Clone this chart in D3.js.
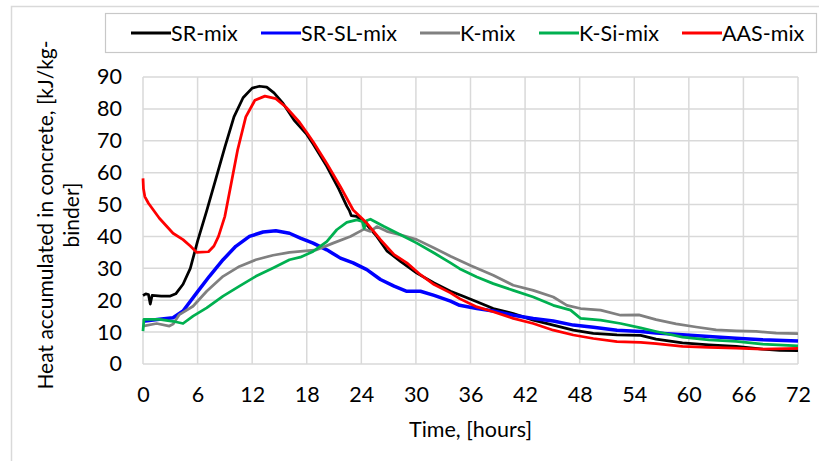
<!DOCTYPE html>
<html>
<head>
<meta charset="utf-8">
<script src="https://cdn.jsdelivr.net/npm/d3@7"></script>
<style>
  body { margin: 0; background: #fff; }
  text { font-family: Lato, "Open Sans", sans-serif; fill: #000; }
</style>
</head>
<body>
<div id="chart"></div>
<script>
// Heat accumulated in concrete vs time, five mixes

let seriesNames = ["SR-mix", "SR-SL-mix", "K-mix", "K-Si-mix", "AAS-mix"];
let seriesColors = ["#000000", "#0000ff", "#808080", "#00b050", "#ff0000"];

let xTicks = [0, 6, 12, 18, 24, 30, 36, 42, 48, 54, 60, 66, 72];
let yTicks = [0, 10, 20, 30, 40, 50, 60, 70, 80, 90];

// [time (h), heat (kJ/kg-binder)]
let srMix = [[0,21.5],[0.3,22],[0.6,21.8],[0.8,18.8],[1,21.5],[2,21.3],[3,21.3],[3.6,22],[4.4,25],
  [5.2,30],[6,38.5],[7,48],[8,58],[9,68],[10,77.5],[11,83.5],[12,86.5],[12.8,87.1],[13.6,86.8],
  [14.4,85],[15.4,81.7],[16.6,76.5],[18,72],[18.7,69],[20.2,62],[21.5,55],[22.4,49.5],[22.7,48],
  [22.9,46.5],[23.5,46.3],[24.6,43.6],[25.7,40],[26.8,35.5],[28.3,32.2],[30.1,28.5],[32,25.4],
  [33.8,22.8],[35,21.5],[36.7,19.5],[38.5,17.4],[40.7,15.8],[42.9,13.75],[45.1,12.2],[47.3,10.6],
  [49.5,9.6],[52.1,9.1],[54.7,9],[56.4,7.8],[59.3,6.6],[62.2,6],[65.2,5.5],[68.1,4.7],[70,4.3],[72,4.2]];

let srSlMix = [[0,13.4],[1.8,14],[3.3,14.5],[4.4,16.6],[5.9,22.3],[7.3,27.5],[8.8,32.7],[10.2,36.9],
  [11.7,40],[13.2,41.4],[14.6,41.8],[16.1,41],[17.3,39.5],[18.7,37.9],[20.2,35.8],[21.7,33.2],
  [23.1,31.7],[24.6,29.6],[26.1,26.5],[27.6,24.4],[29,22.8],[30.5,22.8],[32,21.5],[33.8,19.7],
  [34.8,18.4],[36.7,17.4],[38.5,16.6],[40.7,15.3],[42.9,14.3],[45.1,13.5],[47.3,12.2],[49.5,11.5],
  [52.1,10.6],[54.7,10.2],[56.4,9.7],[59.3,9.2],[62.2,8.6],[65.2,8.1],[68.1,7.6],[72,7.2]];

let kMix = [[0,11.9],[1.5,12.7],[2.9,11.9],[3.3,12.5],[4,15.5],[5.5,18.1],[7,22.8],[8.8,27.5],
  [10.6,30.6],[12.4,32.7],[14.3,34.1],[16.1,35],[17.9,35.5],[19.1,35.8],[20.9,37.9],[22.8,40],
  [24.3,42.3],[25,41.6],[25.7,43.1],[26.8,41.6],[28.3,40.5],[30.1,39],[32,36.4],[33.8,33.8],
  [36,30.9],[38.5,27.8],[40.7,24.7],[42.9,23.1],[45.1,21],[46.6,18.4],[48.1,17.4],[50.3,16.9],
  [52.5,15.3],[54.5,15.4],[56.4,13.9],[58.6,12.6],[60.8,11.6],[63,10.7],[65.2,10.4],[67.4,10.2],
  [69.6,9.7],[72,9.5]];

let kSiMix = [[0,10.3],[0.1,14],[1.8,14],[3.3,13.4],[4.4,12.7],[5.5,15],[7,17.6],[8.8,21.3],
  [10.6,24.4],[12.4,27.5],[14.3,30.1],[16.1,32.7],[17.3,33.5],[18.7,35.3],[20.2,38.4],[21.3,42.1],
  [22.4,44.4],[23.5,45.2],[24.1,44.7],[24.3,42.5],[24.6,45],[25,45.4],[26.5,43.1],[28.3,40.5],
  [30.1,37.9],[32,34.8],[33.8,31.7],[34.8,29.9],[36.7,27.3],[38.5,25.2],[40.7,23.1],[42.9,21],
  [45.1,18.4],[47,16.9],[48.1,14.3],[50.3,13.75],[52.5,12.7],[54.7,11.3],[56.4,10.2],[59.3,8.4],
  [62.2,7.6],[65.2,7.1],[68.1,6.25],[72,5.7]];

let aasMix = [[0,58.2],[0.05,55],[0.2,52.5],[0.6,50.4],[1.8,45.7],[3.3,41],[4.4,39],[5.2,37],
  [5.9,35],[7.2,35.2],[7.8,37],[8.3,40],[9,46.3],[9.7,56.7],[10.4,67.1],[11.3,77.5],[12.3,82.7],
  [13.4,84],[14.6,83.2],[15.7,80.6],[17.2,75.8],[18,72.6],[18.7,69.7],[20.2,62.9],[21.7,55.6],
  [23.1,48.3],[24.6,44.2],[26.1,39],[27.6,34.3],[29,31.7],[30.5,28],[32,24.9],[33.8,22.3],
  [34.8,20.5],[36.7,17.9],[38.5,16.4],[40.7,14.3],[42.9,12.7],[45.1,10.6],[47.3,9.1],[49.5,8],
  [52.1,7],[54.7,6.8],[56.4,6.4],[59.3,5.5],[62.2,5.2],[65.2,5],[68.1,4.7],[72,4.9]];

let allSeries = [srMix, srSlMix, kMix, kSiMix, aasMix];

////////////////////////////////////////////////////////////////////////

let width = 819, height = 461;
let plot = { left: 143, right: 798, top: 77, bottom: 364 };

let xScale = d3.scaleLinear().domain([0, 72]).range([plot.left, plot.right]);
let yScale = d3.scaleLinear().domain([0, 90]).range([plot.bottom, plot.top]);

let svg = d3.select("#chart").append("svg")
  .attr("width", width)
  .attr("height", height);

// outer chart frame
svg.append("rect")
  .attr("x", 11.5).attr("y", 6.5)
  .attr("width", 900).attr("height", 600)
  .attr("fill", "#fff")
  .attr("stroke", "#d9d9d9")
  .attr("stroke-width", 1.5);

// gridlines
let grid = svg.append("g");
grid.selectAll("line.h").data(yTicks).enter().append("line")
  .attr("x1", plot.left).attr("x2", plot.right)
  .attr("y1", d => yScale(d)).attr("y2", d => yScale(d))
  .attr("stroke", "#d9d9d9").attr("stroke-width", 1.5);
grid.selectAll("line.v").data(xTicks).enter().append("line")
  .attr("y1", plot.top).attr("y2", plot.bottom)
  .attr("x1", d => xScale(d)).attr("x2", d => xScale(d))
  .attr("stroke", "#d9d9d9").attr("stroke-width", 1.5);

// axes labels (no axis lines in this chart, just the text)
let yAxis = d3.axisLeft(yScale).tickValues(yTicks).tickSize(0).tickPadding(21);
svg.append("g").attr("transform", `translate(${plot.left},0)`).call(yAxis)
  .call(g => g.select(".domain").remove())
  .selectAll("text").attr("font-size", 21.5).attr("font-family", null).attr("fill", "#000");

let xAxis = d3.axisBottom(xScale).tickValues(xTicks).tickSize(0).tickPadding(23);
svg.append("g").attr("transform", `translate(0,${plot.bottom})`).call(xAxis)
  .call(g => g.select(".domain").remove())
  .selectAll("text").attr("font-size", 21.5).attr("font-family", null).attr("fill", "#000");

svg.append("text")
  .attr("x", (plot.left + plot.right) / 2).attr("y", 437)
  .attr("text-anchor", "middle").attr("font-size", 21.5)
  .text("Time, [hours]");

let yTitle = svg.append("text")
  .attr("transform", "translate(53,215) rotate(-90)")
  .attr("text-anchor", "middle").attr("font-size", 21);
yTitle.append("tspan").attr("x", 0).attr("y", 0).text("Heat accumulated in concrete, [kJ/kg-");
yTitle.append("tspan").attr("x", 0).attr("y", 26).text("binder]");

// series
let line = d3.line().x(d => xScale(d[0])).y(d => yScale(d[1]));
svg.append("g").selectAll("path").data(allSeries).enter().append("path")
  .attr("d", line)
  .attr("fill", "none")
  .attr("stroke", (d, i) => seriesColors[i])
  .attr("stroke-width", (d, i) => i == 1 ? 3.5 : 2.75)
  .attr("stroke-linejoin", "round");

// legend
svg.append("rect")
  .attr("x", 105.5).attr("y", 13.5)
  .attr("width", 711).attr("height", 39)
  .attr("fill", "#fff").attr("stroke", "#c8c8c8").attr("stroke-width", 1.2);

let legendX = [131, 261, 420, 539, 682];
let legend = svg.append("g").selectAll("g").data(seriesNames).enter().append("g")
  .attr("transform", (d, i) => `translate(${legendX[i]},33)`);
legend.append("line")
  .attr("x1", 0).attr("x2", 40)
  .attr("stroke", (d, i) => seriesColors[i]).attr("stroke-width", 3);
legend.append("text")
  .attr("x", 40).attr("y", 8)
  .attr("font-size", 21.5)
  .text(d => d);
</script>
</body>
</html>
